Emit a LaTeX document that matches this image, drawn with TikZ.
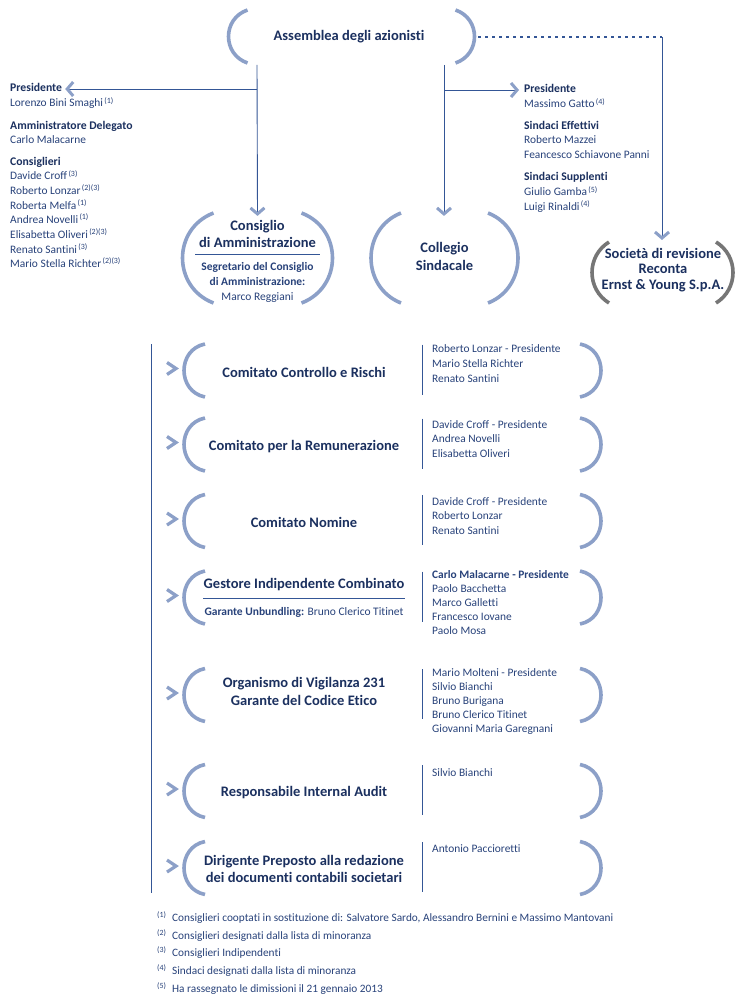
\documentclass[tikz,border=0pt]{standalone}
\usepackage{fontspec}
\setmainfont{Carlito}[Ligatures=NoCommon]
\usetikzlibrary{arrows.meta}

\definecolor{navy}{RGB}{27,48,95}
\definecolor{namecol}{RGB}{40,66,122}
\definecolor{linkblue}{RGB}{52,86,150}
\definecolor{parblue}{RGB}{140,160,200}
\definecolor{pargrey}{RGB}{118,118,118}

\newcommand{\fn}[1]{\textsuperscript{\,#1}}

% round brackets: colour, centre x, centre y, half width, half height, bulge, slope
\newcommand{\parens}[7][parblue]{%
\draw[bracket, #1] (#2-#4,#3-#5) .. controls (#2-#4-1.333*#6,#3-#5+#7) and (#2-#4-1.333*#6,#3+#5-#7) .. (#2-#4,#3+#5);
\draw[bracket, #1] (#2+#4,#3-#5) .. controls (#2+#4+1.333*#6,#3-#5+#7) and (#2+#4+1.333*#6,#3+#5-#7) .. (#2+#4,#3+#5);
}
\newcommand{\chev}[2]{\draw[chevron] (#1,#2-6) -- (#1+9,#2) -- (#1,#2+6);}

% list of names: step, prefix, x, y of first line, names
\newcommand{\names}[5][14.3]{%
\foreach \who [count=\i from 0] in {#5} {\node[member] (#2-\i) at (#3,#4+#1*\i) {\who};}
}

\tikzset{
  bracket/.style={line width=3.6pt, parblue},
  title/.style={font=\bfseries\fontsize{14.5}{17.5}\selectfont, text=navy, align=center, inner sep=0pt},
  sub/.style={font=\fontsize{11.5}{15}\selectfont, text=namecol, align=center, inner sep=0pt},
  head/.style={font=\bfseries\fontsize{11.7}{14}\selectfont, text=navy, anchor=west, inner sep=0pt, text height=8.5pt, text depth=2.5pt},
  member/.style={font=\fontsize{11.4}{14}\selectfont, text=namecol, anchor=west, inner sep=0pt, text height=8.5pt, text depth=2.5pt},
  note/.style={font=\fontsize{11.3}{14}\selectfont, text=namecol, anchor=west, inner sep=0pt, text height=8.5pt, text depth=2.5pt},
  link/.style={linkblue, line width=0.9pt},
  divider/.style={linkblue, line width=1pt},
  dots/.style={linkblue, line width=2.6pt, dash pattern=on 3pt off 4pt},
  arr/.style={link, -{Straight Barb[length=6pt, width=14pt, line width=3pt, color=parblue]}},
  chevron/.style={parblue, line width=3.2pt},
}

\begin{document}
\begin{tikzpicture}[x=1pt, y=-1pt]
\useasboundingbox[fill=white] (0,0) rectangle (750,1003);

% top level
\node[title] (asm) at (349,37) {Assemblea degli azionisti};
\parens{351.5}{36.5}{104}{26.5}{19}{8.6}
\coordinate (asmL) at (257,65);
\coordinate (asmR) at (444,65);
\coordinate (asmE) at (478,37);
\coordinate (revC) at (662,37);

\node[title] (cda) at (257.5,234) {Consiglio\\di Amministrazione};
\node[sub] (cdaSeg) at (257.5,282) {\textbf{Segretario del Consiglio}\\\textbf{di Amministrazione:}\\Marco Reggiani};
\draw[link] (195,254) -- (320,254);
\parens{257.5}{258}{44}{45}{31}{15.8}

\node[title] (cs) at (444.5,256.5) {Collegio\\Sindacale};
\parens{444.5}{258}{43.5}{45}{30}{15.8}

\node[title, font=\bfseries\fontsize{14.5}{15.5}\selectfont] (rev) at (663,270) {Società di revisione\\Reconta\\Ernst \& Young S.p.A.};
\parens[pargrey]{662.5}{272.5}{53.5}{30.5}{17}{14}

% board members
\node[head] (presL) at (10,89) {Presidente};
\node[member] (presLn) at (10,104) {Lorenzo Bini Smaghi\fn{(1)}};
\node[head] (ad) at (10,127) {Amministratore Delegato};
\node[member] (adn) at (10,141) {Carlo Malacarne};
\node[head] (cons) at (10,163) {Consiglieri};
\names[14.6]{cons}{10}{177}{Davide Croff\fn{(3)}, Roberto Lonzar\fn{(2)(3)}, Roberta Melfa\fn{(1)}, Andrea Novelli\fn{(1)}, Elisabetta Oliveri\fn{(2)(3)}, Renato Santini\fn{(3)}, Mario Stella Richter\fn{(2)(3)}}

% auditors
\node[head] (presR) at (524,90) {Presidente};
\node[member] (presRn) at (524,105) {Massimo Gatto\fn{(4)}};
\node[head] (eff) at (524,127) {Sindaci Effettivi};
\names[14.6]{eff}{524}{141}{Roberto Mazzei, Feancesco Schiavone Panni}
\node[head] (supl) at (524,178) {Sindaci Supplenti};
\names[14.6]{supl}{524}{193}{Giulio Gamba\fn{(5)}, Luigi Rinaldi\fn{(4)}}

% connectors
\coordinate (cdaIn) at ([yshift=4pt]cda.north);
\coordinate (revIn) at ([yshift=8pt]rev.north);
\draw[arr] (asmL) -- (cdaIn);
\draw[arr] (asmR) -- (cdaIn -| asmR);
\draw[arr] (asmL |- presL) -- ([xshift=3pt]presL.east);
\draw[arr] (asmR |- presR) -- ([xshift=-5pt]presR.west);
\draw[dots] (asmE) -- (revC);
\draw[arr] (revC) -- (revC |- revIn);

% committees
\draw[link] (151,344) -- (151,893);
\foreach \cy in {370.5,444.5,521,597.5,695,791,868}{
  \parens{392.5}{\cy}{187.5}{26.5}{21}{5.5}
  \chev{167}{\cy-2}
  \draw[divider] (422,\cy-26) -- (422,\cy+24);
}

\node[title] (ccr) at (304,372) {Comitato Controllo e Rischi};
\names[15]{ccr}{432}{349}{Roberto Lonzar - Presidente, Mario Stella Richter, Renato Santini}

\node[title] (rem) at (304,447) {Comitato per la Remunerazione};
\names[14.5]{rem}{432}{425}{Davide Croff - Presidente, Andrea Novelli, Elisabetta Oliveri}

\node[title] (nom) at (304,522) {Comitato Nomine};
\names[14.5]{nom}{432}{502}{Davide Croff - Presidente, Roberto Lonzar, Renato Santini}

\node[title] (gic) at (304,585) {Gestore Indipendente Combinato};
\draw[link] (203,598) -- (405,598);
\node[sub] (gar) at (304,612) {\textbf{Garante Unbundling:} Bruno Clerico Titinet};
\names[14]{gic}{432}{575}{\textbf{Carlo Malacarne - Presidente}, Paolo Bacchetta, Marco Galletti, Francesco Iovane, Paolo Mosa}

\node[title] (odv) at (304,691.5) {Organismo di Vigilanza 231\\Garante del Codice Etico};
\names[14]{odv}{432}{673}{Mario Molteni - Presidente, Silvio Bianchi, Bruno Burigana, Bruno Clerico Titinet, Giovanni Maria Garegnani}

\node[title] (ria) at (304,793) {Responsabile Internal Audit};
\names{ria}{432}{773}{Silvio Bianchi}

\node[title] (dir) at (304,869) {Dirigente Preposto alla redazione\\dei documenti contabili societari};
\names{dir}{432}{849}{Antonio Paccioretti}

% notes
\node[note] (fn1) at (157,918) {\makebox[15pt][l]{\textsuperscript{(1)}}Consiglieri cooptati in sostituzione di: Salvatore Sardo, Alessandro Bernini e Massimo Mantovani};
\node[note] (fn2) at (157,936) {\makebox[15pt][l]{\textsuperscript{(2)}}Consiglieri designati dalla lista di minoranza};
\node[note] (fn3) at (157,953) {\makebox[15pt][l]{\textsuperscript{(3)}}Consiglieri Indipendenti};
\node[note] (fn4) at (157,971) {\makebox[15pt][l]{\textsuperscript{(4)}}Sindaci designati dalla lista di minoranza};
\node[note] (fn5) at (157,989) {\makebox[15pt][l]{\textsuperscript{(5)}}Ha rassegnato le dimissioni il 21 gennaio 2013};

\end{tikzpicture}
\end{document}
